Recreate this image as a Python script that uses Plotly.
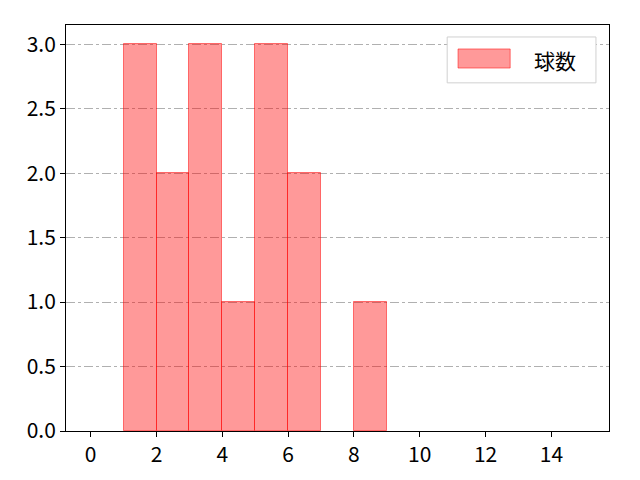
import plotly.graph_objects as go

# histogram bins (left edges) and counts
bin_left = [0, 1, 2, 3, 4, 5, 6, 7, 8, 9, 10, 11, 12, 13, 14]
counts = [0, 3, 2, 3, 1, 3, 2, 0, 1, 0, 0, 0, 0, 0, 0]
x_ticks = [0, 2, 4, 6, 8, 10, 12, 14]
y_ticks = [0.0, 0.5, 1.0, 1.5, 2.0, 2.5, 3.0]
label = "球数"

font = "Noto Sans CJK JP, DejaVu Sans, sans-serif"
fill = "rgba(255,0,0,0.4)"
edge = "rgba(255,0,0,0.5)"

# skip empty bins (they draw nothing)
xs = [b for b, c in zip(bin_left, counts) if c > 0]
ys = [c for c in counts if c > 0]

fig = go.Figure()
fig.add_trace(go.Bar(
    x=xs, y=ys, width=1, offset=0, name=label, showlegend=False,
    marker=dict(color=fill, line=dict(color=edge, width=1)),
))

# page has an 8px body margin, so the figure is 8px smaller
fig.update_layout(
    width=632, height=472,
    margin=dict(l=58, r=31, t=17, b=40),
    plot_bgcolor="white", paper_bgcolor="white",
    font=dict(family=font, size=21, color="black"),
    bargap=0,
)

# legend drawn by hand (matplotlib style: wide patch, light box)
fig.add_shape(type="rect", xref="paper", yref="paper",
              x0=0.702, x1=0.976, y0=0.8575, y1=0.9705,
              line=dict(color="#d0d0d0", width=1), fillcolor="white")
fig.add_shape(type="rect", xref="paper", yref="paper",
              x0=0.722, x1=0.818, y0=0.894, y1=0.941,
              line=dict(color=edge, width=1), fillcolor=fill)
fig.add_annotation(text=label, xref="paper", yref="paper",
                   x=0.858, y=0.915, xanchor="left", yanchor="middle",
                   showarrow=False, font=dict(size=21))

fig.update_xaxes(
    range=[-0.75, 15.75], tickvals=x_ticks, showgrid=False, zeroline=False,
    showline=True, linecolor="black", linewidth=1, mirror=True,
    ticks="outside", ticklen=5, tickcolor="black",
)
fig.update_yaxes(
    range=[0, 3.15], tickvals=y_ticks, ticktext=[f"{v:.1f}" for v in y_ticks],
    showgrid=True, gridcolor="#b0b0b0", griddash="dashdot", gridwidth=1,
    zeroline=False, showline=True, linecolor="black", linewidth=1, mirror=True,
    ticks="outside", ticklen=5, tickcolor="black",
)

fig.write_html("out.html")
